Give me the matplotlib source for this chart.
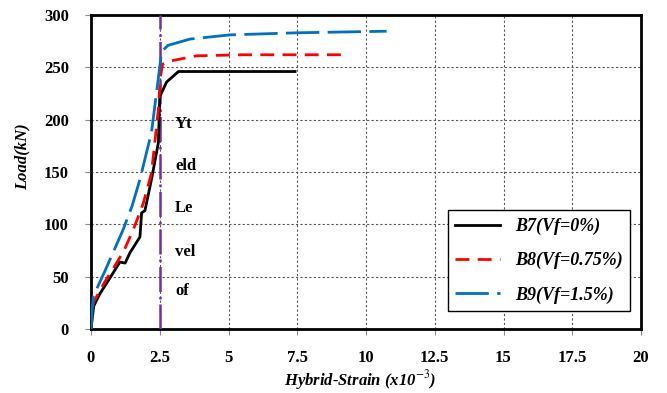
import matplotlib
matplotlib.use('Agg')
import matplotlib.pyplot as plt

plt.rcParams['font.family'] = ['Liberation Serif', 'DejaVu Serif']
plt.rcParams['mathtext.fontset'] = 'stix'

# B7 (Vf = 0%)
b7_strain = [0, 0.1, 0.33, 0.6, 1.05, 1.24, 1.42, 1.78, 1.84, 1.96, 2.2, 2.45, 2.5, 2.75, 3.18, 7.42]
b7_load = [0, 22, 34, 45, 64, 63, 73, 88, 111, 113, 143, 178, 222, 236, 246, 246]

# B8 (Vf = 0.75%)
b8_strain = [0, 0.08, 0.5, 0.93, 1.2, 1.54, 1.9, 2.2, 2.45, 2.52, 2.6, 2.87, 3.84, 5.5, 9.2]
b8_load = [0, 25, 45, 63, 75, 95, 120, 149, 210, 240, 253, 256, 261, 262, 262]

# B9 (Vf = 1.5%)
b9_strain = [0, 0.08, 0.5, 1.17, 1.5, 1.78, 2.2, 2.45, 2.57, 2.8, 3.6, 5.05, 7.5, 10.75]
b9_load = [0, 31, 55, 95, 118, 143, 188, 240, 265, 271, 277, 281, 283, 284.5]

yield_strain = 2.5
note_words = ['Yt', 'eld', 'Le', 'vel', 'of']
note_y = [196, 156, 116, 74, 36]

xticks = [0, 2.5, 5, 7.5, 10, 12.5, 15, 17.5, 20]
xtick_labels = ['0', '2.5', '5', '7.5', '10', '12.5', '15', '17.5', '20']
yticks = [0, 50, 100, 150, 200, 250, 300]

fig = plt.figure(figsize=(6.67, 3.93), dpi=100)
ax = fig.add_axes([91/667, 1-329/393, 550/667, 314/393])

ax.plot(b7_strain, b7_load, color='black', lw=2, label='B7(Vf=0%)', zorder=4)
ax.plot(b8_strain, b8_load, color='#FF0000', lw=2, ls=(0, (5, 3)), label='B8(Vf=0.75%)', zorder=4)
ax.plot(b9_strain, b9_load, color='#0070C0', lw=2, ls=(0, (12, 3)), label='B9(Vf=1.5%)', zorder=4)

ax.axvline(yield_strain, color='#7030A0', lw=1.8, ls=(0, (10, 2, 1, 2)), zorder=3)
for w, yy in zip(note_words, note_y):
    ax.text(3.05, yy, w, fontsize=12, fontweight='bold', va='center', ha='left')

ax.set_xlim(0, 20)
ax.set_ylim(0, 300)
ax.set_xticks(xticks)
ax.set_xticklabels(xtick_labels)
ax.set_yticks(yticks)
ax.grid(True, color='#555555', ls=(0, (2, 2)), lw=0.8)
ax.tick_params(direction='out', length=4, color='#888888', labelsize=12)
ax.tick_params(axis='x', pad=11)
ax.tick_params(axis='y', pad=12)
for lab in ax.get_xticklabels() + ax.get_yticklabels():
    lab.set_fontweight('bold')
for s in ax.spines.values():
    s.set_linewidth(2)

ax.set_xlabel('Hybrid-Strain (x10$^{-3}$)', fontsize=12, fontweight='bold', fontstyle='italic',
              va='top')
ax.xaxis.set_label_coords(0.49, -0.125)
ax.set_ylabel('Load(kN)', fontsize=12, fontweight='bold', fontstyle='italic')
ax.yaxis.set_label_coords(-0.11, 0.55)

leg = ax.legend(loc='lower left', bbox_to_anchor=(0.649, 0.057, 0.331, 0.322), mode='expand',
                prop={'family': 'Liberation Serif', 'weight': 'bold', 'style': 'italic', 'size': 13},
                handlelength=2.5, labelspacing=0.95, fancybox=False, framealpha=1,
                edgecolor='black', borderaxespad=0)
leg.get_frame().set_linewidth(1)

fig.savefig('out.png', dpi=100)
